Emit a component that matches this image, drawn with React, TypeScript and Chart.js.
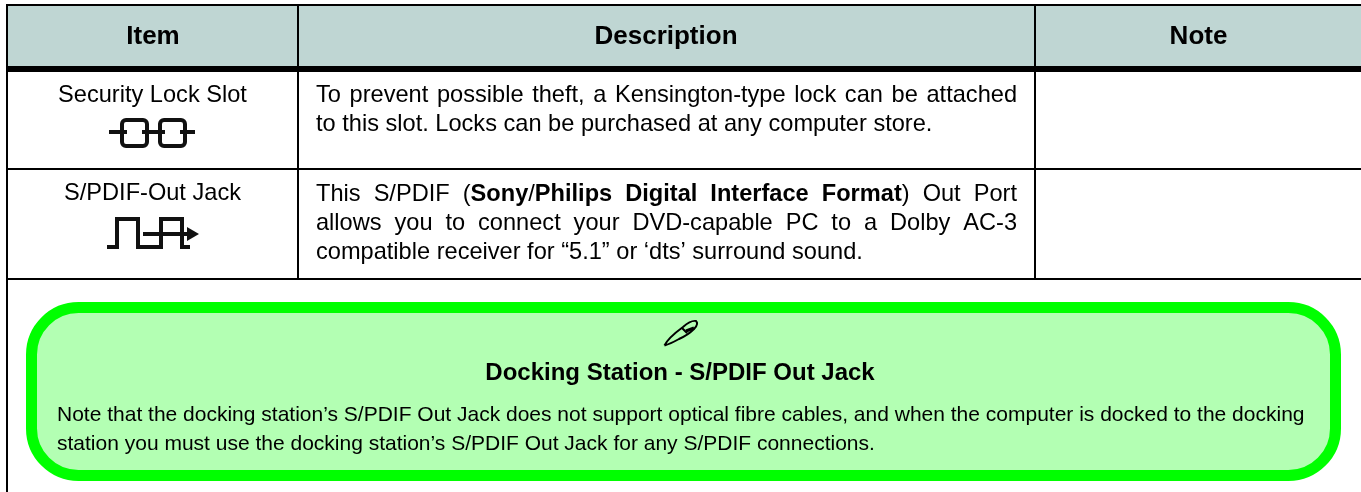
import React, { useEffect, useRef } from "react";
import { Chart, registerables } from "chart.js";

Chart.register(...registerables);

const headers = ["Item", "Description", "Note"];
const itemNames = ["Security Lock Slot", "S/PDIF-Out Jack"];
type Run = { t: string; b?: boolean };
const descriptionRowOne: { runs: Run[]; justify: boolean }[] = [
  { runs: [{ t: "To prevent possible theft, a Kensington-type lock can be attached" }], justify: true },
  { runs: [{ t: "to this slot. Locks can be purchased at any computer store." }], justify: false },
];
const descriptionRowTwo: { runs: Run[]; justify: boolean }[] = [
  {
    runs: [
      { t: "This S/PDIF (" },
      { t: "Sony", b: true },
      { t: "/" },
      { t: "Philips Digital Interface Format", b: true },
      { t: ") Out Port" },
    ],
    justify: true,
  },
  { runs: [{ t: "allows you to connect your DVD-capable PC to a Dolby AC-3" }], justify: true },
  { runs: [{ t: "compatible receiver for “5.1” or ‘dts’ surround sound." }], justify: false },
];
const noteTitle = "Docking Station - S/PDIF Out Jack";
const noteLines = [
  "Note that the docking station’s S/PDIF Out Jack does not support optical fibre cables, and when the computer is docked to the docking",
  "station you must use the docking station’s S/PDIF Out Jack for any S/PDIF connections.",
];

const FONT = '"Liberation Sans", Arial, sans-serif';
const BODY = 23.6;
const HEAD = 26;
const NOTE = 21;
const NOTE_TITLE = 24;

function font(px: number, bold = false) {
  return `${bold ? "bold " : ""}${px}px ${FONT}`;
}

function drawRuns(ctx: CanvasRenderingContext2D, runs: Run[], x0: number, x1: number, y: number, justify: boolean) {
  const tokens: { s: string; b: boolean; space: boolean }[] = [];
  runs.forEach((r) => {
    r.t.split(/( )/).forEach((s) => {
      if (s) tokens.push({ s, b: !!r.b, space: s === " " });
    });
  });
  let total = 0;
  let spaces = 0;
  tokens.forEach((k) => {
    ctx.font = font(BODY, k.b);
    total += ctx.measureText(k.s).width;
    if (k.space) spaces++;
  });
  const extra = justify && spaces ? (x1 - x0 - total) / spaces : 0;
  let x = x0;
  tokens.forEach((k) => {
    ctx.font = font(BODY, k.b);
    if (!k.space) ctx.fillText(k.s, x, y);
    x += ctx.measureText(k.s).width + (k.space ? extra : 0);
  });
}

const tablePlugin = {
  id: "tablePlugin",
  afterDraw(chart: Chart) {
    const ctx = chart.ctx;
    ctx.save();
    ctx.textBaseline = "alphabetic";
    ctx.fillStyle = "#ffffff";
    ctx.fillRect(0, 0, 1361, 492);

    // header band
    ctx.fillStyle = "#bfd6d3";
    ctx.fillRect(6, 4, 1355, 66);

    // note box
    ctx.beginPath();
    ctx.roundRect(31.5, 307.5, 1304, 168, 47);
    ctx.fillStyle = "#b3ffb3";
    ctx.fill();
    ctx.lineWidth = 11;
    ctx.strokeStyle = "#00ff00";
    ctx.stroke();

    // rules
    ctx.fillStyle = "#000000";
    ctx.fillRect(6, 4, 1355, 2);
    ctx.fillRect(6, 66, 1355, 6);
    ctx.fillRect(6, 168, 1355, 2);
    ctx.fillRect(6, 278, 1355, 2);
    ctx.fillRect(6, 4, 2, 488);
    ctx.fillRect(297, 4, 2, 275);
    ctx.fillRect(1034, 4, 2, 275);

    // header text
    ctx.textAlign = "center";
    ctx.font = font(HEAD, true);
    ctx.fillText(headers[0], 153, 44);
    ctx.fillText(headers[1], 666, 44);
    ctx.fillText(headers[2], 1198.5, 44);

    ctx.font = font(BODY);
    ctx.fillText(itemNames[0], 152.5, 102);
    ctx.fillText(itemNames[1], 152.5, 200);

    ctx.textAlign = "left";
    descriptionRowOne.forEach((l, i) => drawRuns(ctx, l.runs, 316, 1017, 102 + i * 29, l.justify));
    descriptionRowTwo.forEach((l, i) => drawRuns(ctx, l.runs, 316, 1017, 201 + i * 29, l.justify));

    ctx.textAlign = "center";
    ctx.font = font(NOTE_TITLE, true);
    ctx.fillText(noteTitle, 680, 380);
    ctx.textAlign = "left";
    ctx.font = font(NOTE);
    noteLines.forEach((s, i) => ctx.fillText(s, 57, 421 + i * 29));

    // lock icon
    ctx.strokeStyle = "#111111";
    ctx.lineWidth = 4;
    ctx.lineCap = "butt";
    ctx.lineJoin = "round";
    ctx.beginPath();
    ctx.roundRect(122, 120, 25, 26, 4);
    ctx.roundRect(160, 120, 25, 26, 4);
    ctx.moveTo(109, 132);
    ctx.lineTo(127, 132);
    ctx.moveTo(142, 132);
    ctx.lineTo(165, 132);
    ctx.moveTo(180, 132);
    ctx.lineTo(195, 132);
    ctx.stroke();

    // S/PDIF icon
    ctx.lineJoin = "miter";
    ctx.lineWidth = 4;
    ctx.beginPath();
    ctx.moveTo(107, 247);
    ctx.lineTo(117, 247);
    ctx.lineTo(117, 219);
    ctx.lineTo(138, 219);
    ctx.lineTo(138, 247);
    ctx.lineTo(161, 247);
    ctx.lineTo(161, 219);
    ctx.lineTo(182, 219);
    ctx.lineTo(182, 247);
    ctx.lineTo(190, 247);
    ctx.moveTo(143, 234);
    ctx.lineTo(190, 234);
    ctx.stroke();
    ctx.fillStyle = "#111111";
    ctx.beginPath();
    ctx.moveTo(187, 227);
    ctx.lineTo(199, 234);
    ctx.lineTo(187, 241);
    ctx.closePath();
    ctx.fill();

    // pen icon
    ctx.lineWidth = 2;
    ctx.lineJoin = "round";
    ctx.strokeStyle = "#000000";
    ctx.beginPath();
    ctx.moveTo(664.5, 345.5);
    ctx.quadraticCurveTo(668, 338, 683, 327);
    ctx.quadraticCurveTo(691, 320, 696, 321);
    ctx.quadraticCurveTo(699, 324, 694, 329);
    ctx.quadraticCurveTo(688, 335, 679, 339);
    ctx.quadraticCurveTo(670, 344, 664.5, 345.5);
    ctx.moveTo(682, 328);
    ctx.lineTo(687, 333);
    ctx.stroke();
    ctx.lineWidth = 3;
    ctx.beginPath();
    ctx.moveTo(686, 331);
    ctx.lineTo(694, 328);
    ctx.stroke();
    ctx.restore();
  },
};

export default function App() {
  const ref = useRef<HTMLCanvasElement | null>(null);
  useEffect(() => {
    if (!ref.current) return;
    const chart = new Chart(ref.current, {
      type: "scatter",
      data: { datasets: [] },
      options: {
        animation: false,
        responsive: false,
        plugins: { legend: { display: false }, tooltip: { enabled: false } },
        scales: { x: { display: false }, y: { display: false } },
      },
      plugins: [tablePlugin],
    } as any);
    return () => chart.destroy();
  }, []);
  return (
    <div style={{ position: "fixed", left: 0, top: 0, width: 1361, height: 492, background: "#fff" }}>
      <canvas ref={ref} width={1361} height={492} style={{ display: "block" }} />
    </div>
  );
}
